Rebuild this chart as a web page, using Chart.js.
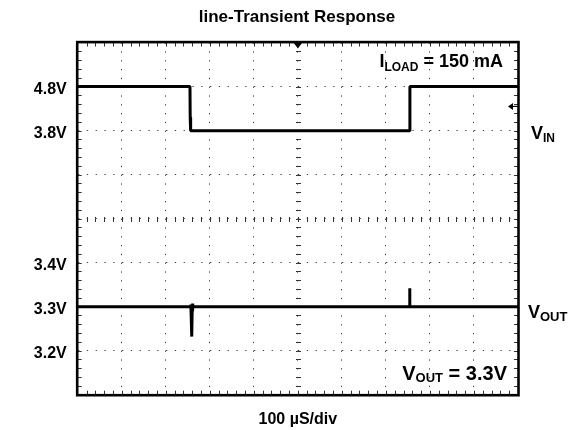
<!DOCTYPE html>
<html><head><meta charset="utf-8">
<script src="https://cdn.jsdelivr.net/npm/chart.js@4/dist/chart.umd.min.js"></script>
<style>html,body{margin:0;padding:0;background:#fff}#wrap{width:570px;height:430px}</style>
</head><body><div id="wrap"><canvas id="c" width="570" height="430"></canvas></div>
<script>
// ---- data (time in µs, 100 µs per division) ----
const chartTitle = 'line-Transient Response';
const xAxisTitle = '100 µS/div';
const timeRange = [0, 1000];
const vinRange = [-2.2, 5.8];   // 1 V/div
const voutRange = [3.1, 3.9];   // 100 mV/div
const vinTime  = [0, 255, 255.5, 256.5, 754, 754.5, 1000];
const vinVolts = [4.8, 4.8, 4.1, 3.8, 3.8, 4.8, 4.8];
const voutTime  = [0, 256, 257, 258, 259, 260, 261, 262, 753.5, 754, 754.5, 1000];
const voutVolts = [3.3, 3.3, 3.305, 3.27, 3.232, 3.29, 3.307, 3.3, 3.3, 3.342, 3.3, 3.3];
const vinTickValues = [4.8, 3.8];
const vinTickLabels = ['4.8V', '3.8V'];
const voutTickValues = [3.4, 3.3, 3.2];
const voutTickLabels = ['3.4V', '3.3V', '3.2V'];
const triggerLevel = 4.35;   // VIN units
const triggerTime = 500;     // µs
const loadText = ['I', 'LOAD', ' = 150 mA'];
const voutSetText = ['V', 'OUT', ' = 3.3V'];
const vinName = ['V', 'IN'];
const voutName = ['V', 'OUT'];

const FAM = '"Liberation Sans", Arial, Helvetica, sans-serif';
const DASH = [1.3, 7.5];

function drawParts(ctx, x, y, parts, align) {
  // parts: [text, size, dy]
  let widths = parts.map(p => { ctx.font = 'bold ' + p[1] + 'px ' + FAM; return ctx.measureText(p[0]).width; });
  let total = widths.reduce((a, b) => a + b, 0);
  let cx = align === 'right' ? x - total : x;
  ctx.textBaseline = 'alphabetic';
  ctx.textAlign = 'left';
  parts.forEach((p, i) => {
    ctx.font = 'bold ' + p[1] + 'px ' + FAM;
    ctx.fillText(p[0], cx, y + p[2]);
    cx += widths[i];
  });
}

const scopePlugin = {
  id: 'scope',
  beforeDatasetsDraw(chart) {
    const {ctx, chartArea: a, scales} = chart;
    const x = scales.x, y = scales.y;
    ctx.save();
    ctx.strokeStyle = '#333';
    ctx.lineWidth = 1;
    ctx.beginPath();
    const xStep = (x.max - x.min) / 50;
    const yStep = (y.max - y.min) / 40;
    const cy = Math.round(y.getPixelForValue((y.min + y.max) / 2)) + 0.5;
    const cx = Math.round(x.getPixelForValue((x.min + x.max) / 2)) + 0.5;
    for (let i = 1; i < 50; i++) {
      const px = Math.round(x.getPixelForValue(x.min + i * xStep)) + 0.5;
      ctx.moveTo(px, a.top); ctx.lineTo(px, a.top + 4);
      ctx.moveTo(px, a.bottom); ctx.lineTo(px, a.bottom - 4);
      ctx.moveTo(px, cy - 2.5); ctx.lineTo(px, cy + 2.5);
    }
    for (let i = 1; i < 40; i++) {
      const py = Math.round(y.getPixelForValue(y.min + i * yStep)) + 0.5;
      ctx.moveTo(a.left, py); ctx.lineTo(a.left + 4, py);
      ctx.moveTo(a.right, py); ctx.lineTo(a.right - 4, py);
      ctx.moveTo(cx - 2.5, py); ctx.lineTo(cx + 2.5, py);
    }
    ctx.stroke();
    ctx.restore();
  },
  afterDatasetsDraw(chart) {
    const {ctx, chartArea: a, scales} = chart;
    ctx.save();
    ctx.strokeStyle = '#000';
    ctx.lineWidth = 2.6;
    ctx.strokeRect(a.left - 0.5, a.top - 0.5, a.right - a.left + 1, a.bottom - a.top + 1);
    // trigger position marker
    const tx = scales.x.getPixelForValue(triggerTime);
    ctx.fillStyle = '#000';
    ctx.beginPath();
    ctx.moveTo(tx - 4.5, a.top); ctx.lineTo(tx + 4.5, a.top); ctx.lineTo(tx, a.top + 6); ctx.closePath();
    ctx.fill();
    // trigger level arrow
    const ty = scales.yin.getPixelForValue(triggerLevel);
    ctx.lineWidth = 1.2;
    ctx.beginPath(); ctx.moveTo(a.right - 8, ty); ctx.lineTo(a.right, ty); ctx.stroke();
    ctx.beginPath(); ctx.moveTo(a.right - 10, ty); ctx.lineTo(a.right - 5, ty - 3.5); ctx.lineTo(a.right - 5, ty + 3.5); ctx.closePath(); ctx.fill();
    ctx.restore();
  },
  afterDraw(chart) {
    const {ctx, chartArea: a, scales} = chart;
    ctx.save();
    ctx.fillStyle = '#000';
    drawParts(ctx, a.right - 15, a.top + 24.5, [[loadText[0], 18, 0], [loadText[1], 12, 3.5], [loadText[2], 18, 0]], 'right');
    drawParts(ctx, a.right - 11, a.bottom - 14.5, [[voutSetText[0], 20, 0], [voutSetText[1], 13, 2], [voutSetText[2], 20, 0]], 'right');
    const yIn = scales.yin.getPixelForValue(vinTickValues[1]);
    drawParts(ctx, a.right + 13, yIn + 8.5, [[vinName[0], 18, 0], [vinName[1], 12, 2.5]], 'left');
    const yOut = scales.y.getPixelForValue(voutTickValues[1]);
    drawParts(ctx, a.right + 10, yOut + 11.5, [[voutName[0], 18, 0], [voutName[1], 13, 3]], 'left');
    ctx.restore();
  }
};

function leftLabel(value) {
  const s = this;
  const d = (s.max - value) / (s.max - s.min);        // fraction from top
  const vin = vinRange[1] - d * (vinRange[1] - vinRange[0]);
  for (let i = 0; i < vinTickValues.length; i++)
    if (Math.abs(vin - vinTickValues[i]) < 1e-6) return vinTickLabels[i];
  for (let i = 0; i < voutTickValues.length; i++)
    if (Math.abs(value - voutTickValues[i]) < 1e-6) return voutTickLabels[i];
  return '';
}

new Chart(document.getElementById('c'), {
  type: 'line',
  data: {
    datasets: [
      { label: 'VIN', data: vinTime.map((t, i) => ({x: t, y: vinVolts[i]})), yAxisID: 'yin',
        borderColor: '#000', borderWidth: 3, pointRadius: 0, tension: 0, borderJoinStyle: 'bevel' },
      { label: 'VOUT', data: voutTime.map((t, i) => ({x: t, y: voutVolts[i]})), yAxisID: 'y',
        borderColor: '#000', borderWidth: 3, pointRadius: 0, tension: 0, borderJoinStyle: 'bevel' }
    ]
  },
  options: {
    responsive: false, animation: false, devicePixelRatio: 1,
    layout: { padding: { left: 24, right: 0, top: 0, bottom: 0 } },
    plugins: {
      legend: { display: false }, tooltip: { enabled: false },
      title: { display: true, text: chartTitle, color: '#000',
        font: { family: FAM, size: 17, weight: 'bold' }, padding: { top: 7.5, bottom: 14.7 } }
    },
    scales: {
      x: { type: 'linear', min: timeRange[0], max: timeRange[1],
        ticks: { stepSize: 100, display: false },
        grid: { color: '#444', lineWidth: 1, drawTicks: false, borderDash: DASH },
        border: { display: false, dash: DASH },
        title: { display: true, text: xAxisTitle, color: '#000', font: { family: FAM, size: 16, weight: 'bold' }, padding: { top: 0, bottom: 1 } },
        afterFit(s) { s.height = 35.3; } },
      y: { position: 'left', min: voutRange[0], max: voutRange[1],
        ticks: { stepSize: 0.1, autoSkip: false, callback: leftLabel, color: '#000', padding: 11, labelOffset: 3,
          font: { family: FAM, size: 16, weight: 'bold' } },
        grid: { color: '#444', lineWidth: 1, drawTicks: false, borderDash: DASH },
        border: { display: false, dash: DASH },
        afterFit(s) { s.width = 53.7; } },
      yin: { position: 'right', min: vinRange[0], max: vinRange[1],
        ticks: { display: false }, grid: { display: false }, border: { display: false },
        afterFit(s) { s.width = 52; } }
    }
  },
  plugins: [scopePlugin]
});
</script></body></html>
